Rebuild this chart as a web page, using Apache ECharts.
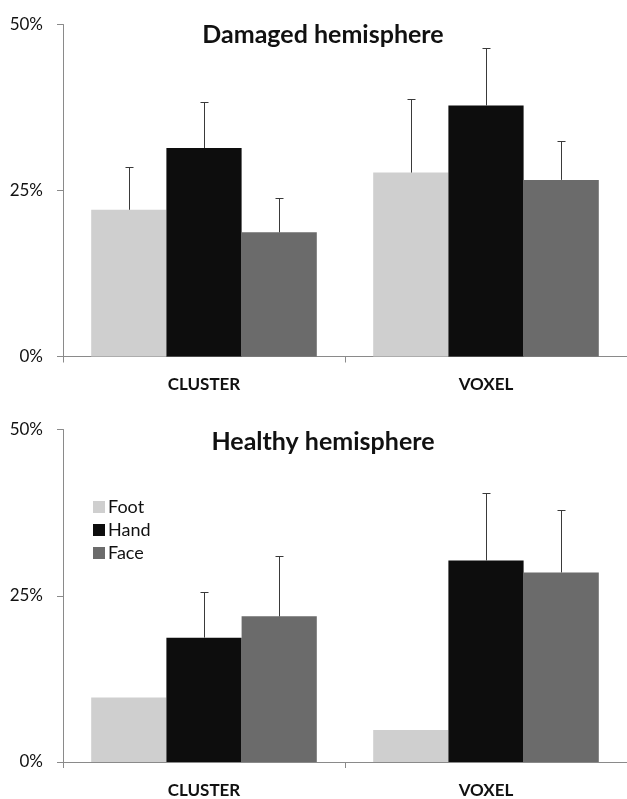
<!DOCTYPE html>
<html>
<head>
<meta charset="utf-8">
<script src="https://cdn.jsdelivr.net/npm/echarts@6/dist/echarts.min.js"></script>
<style>
  html, body { margin: 0; padding: 0; background: #fff; }
  #chart { width: 627px; height: 799px; }
</style>
</head>
<body>
<div id="chart"></div>
<script>
var categories = ['CLUSTER', 'VOXEL'];
var seriesNames = ['Foot', 'Hand', 'Face'];
var yTicks = [0, 25, 50];

var damagedFoot = [22.1, 27.7];
var damagedHand = [31.4, 37.8];
var damagedFace = [18.7, 26.6];
var damagedFootErr = [6.4, 11.1];
var damagedHandErr = [7.0, 8.6];
var damagedFaceErr = [5.1, 5.9];

var healthyFoot = [9.7, 4.8];
var healthyHand = [18.7, 30.3];
var healthyFace = [21.9, 28.5];
var healthyFootErr = [null, null];
var healthyHandErr = [6.8, 10.1];
var healthyFaceErr = [9.1, 9.4];

var panelTitles = ['Damaged hemisphere', 'Healthy hemisphere'];

var colors = ['#cfcfcf', '#0d0d0d', '#6b6b6b'];
var FONT = 'Lato';

var chart = echarts.init(document.getElementById('chart'), null, { renderer: 'canvas' });

function renderErr(params, api) {
  var cat = api.value(0);
  var v = api.value(1);
  var e = api.value(2);
  var idx = api.value(3);
  if (e == null || isNaN(e)) return null;
  var bandW = api.size([1, 0])[0];
  var barW = bandW * 0.8 / 3;
  var base = api.coord([cat, v]);
  var x = Math.round(base[0] + (idx - 1) * barW) + 0.5;
  var y0 = base[1];
  var y1 = Math.round(api.coord([cat, v + e])[1]) + 0.5;
  var st = { stroke: '#3a3a3a', lineWidth: 1 };
  return {
    type: 'group',
    children: [
      { type: 'line', shape: { x1: x, y1: y0, x2: x, y2: y1 }, style: st },
      { type: 'line', shape: { x1: x - 4, y1: y1, x2: x + 4, y2: y1 }, style: st }
    ]
  };
}

function errData(vals, errs, idx) {
  return vals.map(function (v, i) { return [i, v, errs[i] == null ? NaN : errs[i], idx]; });
}

var panels = [
  { vals: [damagedFoot, damagedHand, damagedFace], errs: [damagedFootErr, damagedHandErr, damagedFaceErr] },
  { vals: [healthyFoot, healthyHand, healthyFace], errs: [healthyFootErr, healthyHandErr, healthyFaceErr] }
];

var grids = [
  { left: 63, right: 0, top: 24.5, height: 332 },
  { left: 63, right: 0, top: 429.5, height: 332.5 }
];

var xAxes = [], yAxes = [], series = [];
grids.forEach(function (g, gi) {
  xAxes.push({
    type: 'category', gridIndex: gi, data: categories,
    axisLine: { show: true, lineStyle: { color: '#8a8a8a', width: 1 } },
    axisTick: { show: true, length: 6, lineStyle: { color: '#8a8a8a' } },
    axisLabel: { margin: 20, fontFamily: FONT, fontWeight: 'bold', fontSize: 17, color: '#111' },
    splitLine: { show: false }
  });
  yAxes.push({
    type: 'value', gridIndex: gi, min: yTicks[0], max: yTicks[yTicks.length - 1], interval: 25,
    axisLine: { show: true, lineStyle: { color: '#8a8a8a', width: 1 } },
    axisTick: { show: true, length: 6, lineStyle: { color: '#8a8a8a' } },
    axisLabel: { margin: 20, fontFamily: FONT, fontSize: 17, color: '#111', formatter: '{value}%' },
    splitLine: { show: false }
  });
  var p = panels[gi];
  seriesNames.forEach(function (name, si) {
    series.push({
      name: name, type: 'bar', xAxisIndex: gi, yAxisIndex: gi,
      data: p.vals[si], barGap: '0%', barCategoryGap: '20%',
      itemStyle: { color: colors[si] },
      silent: true
    });
  });
  seriesNames.forEach(function (name, si) {
    series.push({
      type: 'custom', xAxisIndex: gi, yAxisIndex: gi,
      renderItem: renderErr, data: errData(p.vals[si], p.errs[si], si),
      encode: { x: 0, y: 1 }, z: 5, silent: true
    });
  });
});

chart.setOption({
  animation: false,
  backgroundColor: '#fff',
  title: [
    { text: panelTitles[0], left: 318, top: 17, textAlign: 'center',
      textStyle: { fontFamily: FONT, fontWeight: 'bold', fontSize: 25, color: '#111' } },
    { text: panelTitles[1], left: 318, top: 424, textAlign: 'center',
      textStyle: { fontFamily: FONT, fontWeight: 'bold', fontSize: 25, color: '#111' } }
  ],
  legend: {
    data: seriesNames, orient: 'vertical', left: 88, top: 493,
    icon: 'rect', itemWidth: 12, itemHeight: 12, itemGap: 5,
    textStyle: { fontFamily: FONT, fontSize: 18, color: '#111', padding: [0, 0, 0, -2] }
  },
  grid: grids,
  xAxis: xAxes,
  yAxis: yAxes,
  series: series
});
</script>
</body>
</html>
